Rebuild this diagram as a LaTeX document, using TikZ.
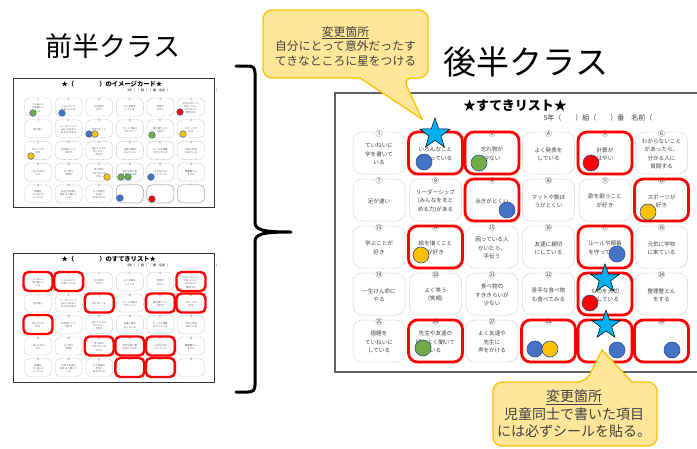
\documentclass[tikz,border=0pt]{standalone}
\usepackage{fontspec}
\setmainfont{Noto Sans CJK JP}
\usetikzlibrary{shapes.geometric}
\definecolor{stkblue}{HTML}{4472C4}
\definecolor{stkgreen}{HTML}{70AD47}
\definecolor{stkyellow}{HTML}{FFC000}
\definecolor{stkred}{HTML}{FF0000}
\definecolor{stkline}{HTML}{2F528F}
\definecolor{starblue}{HTML}{00B0F0}
\definecolor{callfill}{HTML}{FFE699}
\definecolor{callline}{HTML}{FFC000}
\definecolor{txtgray}{HTML}{404040}
\def\bigitems{{ていねいに\\字を書いて\\いる}/①,{いろんなこと\\を知っている}/②,{忘れ物が\\少ない}/③,{よく発表を\\している}/④,{計算が\\はやい}/⑤,{わからないこと\\があったら、\\分かる人に\\質問する}/⑥,%
{足が速い}/⑦,{リーダーシップ\\(みんなをまと\\める力)がある}/⑧,{泳ぎがとくい}/⑨,{マットや鉄ぼ\\うがとくい}/⑩,{歌を歌うこと\\が好き}/⑪,{スポーツが\\好き}/⑫,%
{学ぶことが\\好き}/⑬,{絵を描くこと\\が好き}/⑭,{困っている人\\がいたら、\\手伝う}/⑮,{友達に親切\\にしている}/⑯,{ルールや順番\\を守っている}/⑰,{元気に学校\\に来ている}/⑱,%
{一生けん命に\\やる}/⑲,{よく笑う\\(笑顔)}/⑳,{食べ物の\\すききらいが\\少ない}/㉑,{苦手な食べ物\\も食べてみる}/㉒,{ものを大切\\にしている}/㉓,{整理整とん\\をする}/㉔,%
{宿題を\\ていねいに\\している}/㉕,{先生や友達の\\話をよく聞いて\\いる}/㉖,{よく友達や\\先生に\\声をかける}/㉗,{}/㉘,{}/㉙,{}/㉚}
\begin{document}
\begin{tikzpicture}[x=1pt,y=-1pt,
  cellbox/.style={draw=gray!55, dash pattern=on 1pt off 1pt, rounded corners=9pt, minimum width=52pt, minimum height=42pt, inner sep=0pt, line width=0.5pt},
  redbox/.style={draw=stkred, line width=2.8pt, rounded corners=9pt, minimum width=54pt, minimum height=42pt, inner sep=0pt},
  celltext/.style={font=\fontsize{5.6}{8.3}\selectfont, align=center, text=txtgray, inner sep=0pt},
  cellnum/.style={font=\fontsize{7}{7}\selectfont, fill=white, inner sep=0.5pt, text=txtgray},
  tcell/.style={draw=gray!60, dash pattern=on 0.6pt off 0.6pt, rounded corners=5pt, minimum width=27pt, minimum height=18pt, inner sep=0pt, line width=0.4pt},
  tsolid/.style={draw=gray!70, line width=0.5pt, rounded corners=5pt, minimum width=27pt, minimum height=18pt, inner sep=0pt},
  tred/.style={draw=stkred, line width=2.4pt, rounded corners=5pt, minimum width=29pt, minimum height=19pt, inner sep=0pt},
  ttext/.style={font=\fontsize{2.4}{3.1}\selectfont, align=center, text=gray!70!black, inner sep=0pt},
  tnum/.style={font=\fontsize{3}{3}\selectfont, fill=white, inner sep=0.2pt, text=gray!70!black},
  stk/.style={draw=stkline, line width=0.6pt},
  starmark/.style={star, star points=5, star point ratio=2.5, fill=starblue, draw=black, line width=0.5pt, minimum size=32pt, inner sep=0pt},
  callout/.style={fill=callfill, draw=callline, line width=1.3pt},
  calltext/.style={align=center, text=txtgray, inner sep=0pt},
  frame/.style={draw=black!80, line width=0.9pt}]
\useasboundingbox (0,0) rectangle (697,448);
\fill[white] (0,0) rectangle (697,448);

% titles
\node[font=\fontsize{27}{27}\selectfont] (title1) at (113,46) {前半クラス};
\node[font=\fontsize{33}{33}\selectfont] (title2) at (526,62) {後半クラス};

% brace
\draw[line width=3pt, line cap=round, line join=round] (236,66) -- (248,66) .. controls (253,66) and (255,68) .. (255,73) -- (255,222) .. controls (255,230) and (262,232) .. (291,232)
  .. controls (262,232) and (255,234) .. (255,242) -- (255,385) .. controls (255,390) and (253,392) .. (248,392) -- (236,392);

% ===== left thumbnail: image card =====
\draw[frame] (13,78) rectangle (214,207);
\node[font=\bfseries\fontsize{6.3}{6.3}\selectfont, anchor=west] (ttl1) at (58,84) {★（　　　　）のイメージカード★};
\node[font=\fontsize{3}{3}\selectfont, anchor=west] (sub1) at (124,90.5) {5年（　）組（　）番　名前（　　　　　　　　　　　　　　　　）};
\foreach \t/\n [count=\i] in \bigitems {
  \pgfmathtruncatemacro\cc{mod(\i-1,6)}
  \pgfmathtruncatemacro\rr{(\i-1)/6}
  \node[tcell] (a\i) at ({38+30.6*\cc},{107+21.7*\rr}) {};
  \node[tnum] (an\i) at ([yshift=-1.2pt]a\i.north) {\n};
  \node[ttext] (at\i) at ([yshift=-1pt]a\i.center) {\t};
}
\foreach \i in {28,29,30} \node[tsolid, fill=white] (ax\i) at (a\i.center) {};
\foreach \x/\y/\c in {33/113/stkgreen,62/113/stkblue,180/112/stkred,89/134/stkblue,95/134/stkyellow,152/135/stkgreen,183/134/stkyellow,31/156/stkyellow,107/177/stkyellow,121/177/stkgreen,128/177/stkgreen,151/177/stkblue,120/198/stkblue,152/199/stkred}
  \draw[stk, line width=0.4pt, fill=\c] (\x,\y) circle[radius=3.3];

% ===== left thumbnail: list =====
\draw[frame] (13,253) rectangle (214,382);
\node[font=\bfseries\fontsize{6.3}{6.3}\selectfont, anchor=west] (ttl2) at (58,259) {★（　　　　）のすてきリスト★};
\node[font=\fontsize{3}{3}\selectfont, anchor=west] (sub2) at (124,265.5) {5年（　）組（　）番　名前（　　　　　　　　　　　　　　　　）};
\foreach \t/\n [count=\i] in \bigitems {
  \pgfmathtruncatemacro\cc{mod(\i-1,6)}
  \pgfmathtruncatemacro\rr{(\i-1)/6}
  \node[tcell] (b\i) at ({38+30.6*\cc},{281.5+21.5*\rr}) {};
  \node[tnum] (bn\i) at ([yshift=-1.2pt]b\i.north) {\n};
  \node[ttext] (bt\i) at ([yshift=-1pt]b\i.center) {\t};
}
\foreach \i in {1,2,6,9,11,12,13,21,22,23,28,29} \node[tred] (br\i) at (b\i.center) {};

% ===== right sheet =====
\draw[draw=gray!75!black, line width=1.1pt] (335,93) rectangle (704,372);
\node[font=\bfseries\fontsize{13}{13}\selectfont] (sheettitle) at (515,106) {★すてきリスト★};
\node[font=\fontsize{7}{7}\selectfont, anchor=west, text=txtgray] (sheetsub) at (540,118) {5年（　　）組（　　）番　名前（};
\foreach \t/\n [count=\i] in \bigitems {
  \pgfmathtruncatemacro\cc{mod(\i-1,6)}
  \pgfmathtruncatemacro\rr{(\i-1)/6}
  \node[cellbox] (s\i) at ({379+56.5*\cc},{153+47*\rr}) {};
  \node[cellnum] (sn\i) at ([yshift=-2.5pt]s\i.north) {\n};
  \node[celltext] (st\i) at ([yshift=-1pt]s\i.center) {\t};
}
\foreach \i in {2,3,5,9,12,14,17,23,26,28,29,30} \node[redbox] (sr\i) at (s\i.center) {};

% stickers
\foreach \x/\y/\c in {424/162/stkblue,479/163/stkgreen,507/210/stkblue,591/163/stkred,648/212/stkyellow,421/255/stkyellow,617/254/stkblue,590/303/stkred,423/348/stkgreen,535/349/stkblue,550/349/stkyellow,617/350/stkblue,672/350/stkblue}
  \draw[stk, fill=\c] (\x,\y) circle[radius=8];

% callouts
\draw[callout] (345,10) [rounded corners=9pt] -- (428,10) -- (428,78) -- (403,78) [sharp corners] -- (422,119) -- (360,78) [rounded corners=9pt] -- (263,78) -- (263,10) -- cycle;
\node[calltext, font=\fontsize{11.8}{14.5}\selectfont] (call1) at (345.5,46) {\underline{変更箇所}\\自分にとって意外だったす\\てきなところに星をつける};

\draw[callout] (575,446) [rounded corners=9pt] -- (493,446) -- (493,382) -- (586,382) [sharp corners] -- (602,350) -- (632,382) [rounded corners=9pt] -- (657,382) -- (657,446) -- cycle;
\node[calltext, font=\fontsize{14}{17.5}\selectfont] (call2) at (574,414) {\underline{変更箇所}\\児童同士で書いた項目\\には必ずシールを貼る。};

% stars
\node[starmark] (star1) at (435,134) {};
\node[starmark, minimum size=30pt] (star2) at (605,279) {};
\node[starmark, minimum size=30pt] (star3) at (606,325) {};
\end{tikzpicture}
\end{document}
